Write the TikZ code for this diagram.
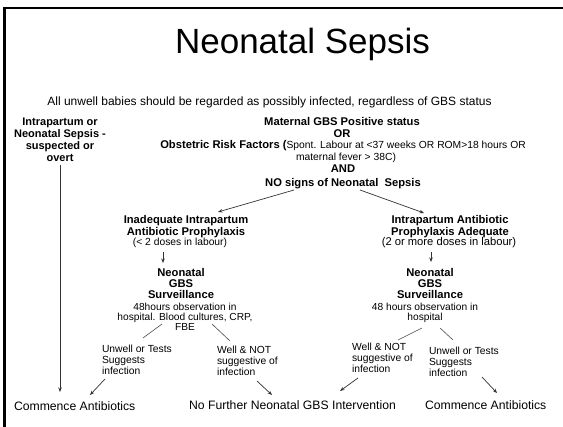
\documentclass[tikz,border=0pt]{standalone}
\usepackage{fontspec}
\setmainfont{Liberation Sans}
\usetikzlibrary{arrows.meta}
\tikzset{
  every node/.style={inner sep=0pt, outer sep=0pt},
  regtxt/.style={font=\fontsize{10.3}{11}\selectfont, align=center},
  obstxt/.style={font=\fontsize{10.2}{10.2}\selectfont, align=center},
  hdrtxt/.style={font=\bfseries\fontsize{11.2}{11.5}\selectfont, align=center},
  survtxt/.style={font=\bfseries\fontsize{11.2}{11.3}\selectfont, align=center},
  bigtxt/.style={font=\fontsize{12.2}{14}\selectfont},
  smalltxt/.style={font=\fontsize{10.3}{11}\selectfont},
  arr/.style={draw=black!80, line width=0.7pt, -{Stealth[length=4.5pt,width=3.5pt]}},
  plain/.style={draw=black!70, line width=0.6pt},
}
\begin{document}
\begin{tikzpicture}[x=1pt,y=-1pt]
\useasboundingbox (0,0) rectangle (563,427);
\fill[white] (0,0) rectangle (563,427);
% slide border
\draw[line width=2.5pt] (4.5,427) -- (4.5,8) -- (563,8);

\node[font=\fontsize{35}{40}\selectfont] (title) at (302.5,44) {Neonatal Sepsis};
\node[font=\fontsize{12}{14}\selectfont] (allunwell) at (269.5,102)
  {All unwell babies should be regarded as possibly infected, regardless of GBS status};

\node[font=\bfseries\fontsize{11}{12}\selectfont, align=center] (sepsis) at (60,140) {Intrapartum or\\Neonatal Sepsis -\\suspected or\\overt};

\node[font=\bfseries\fontsize{11.2}{12}\selectfont, align=center] (maternal) at (342,128) {Maternal GBS Positive status\\OR};
\node[font=\bfseries\fontsize{11.2}{12}\selectfont] (obstetric) at (343,146)
  {Obstetric Risk Factors (\mdseries\fontsize{10.3}{11}\selectfont Spont. Labour at <37 weeks OR ROM>18 hours OR};
\node[smalltxt] (fever) at (346,157.5) {maternal fever > 38C)};
\node[font=\bfseries\fontsize{11.2}{13.5}\selectfont, align=center] (nosigns) at (343,177) {AND\\NO signs of Neonatal\ \ Sepsis};

% left branch
\node[hdrtxt] (inadequate) at (186,226.5) {Inadequate Intrapartum\\Antibiotic Prophylaxis};
\node[smalltxt] (inaddoses) at (180,243) {(< 2 doses in labour)};
\node[survtxt] (survL) at (181,283.5) {Neonatal\\GBS\\Surveillance};
\node[obstxt] (obsL) at (185,317) {48hours observation in\\hospital. Blood cultures, CRP,\\FBE};
\node[regtxt, align=left, anchor=west] (unwellL) at (102,360) {Unwell or Tests\\Suggests\\infection};
\node[regtxt, align=left, anchor=west] (wellL) at (217,360.5) {Well \& NOT\\suggestive of\\infection};

% right branch
\node[hdrtxt] (adequate) at (450,226.5) {Intrapartum Antibiotic\\Prophylaxis Adequate};
\node[font=\fontsize{11.2}{12}\selectfont] (adeqdoses) at (449,243) {(2 or more doses in labour)};
\node[survtxt] (survR) at (430,283.5) {Neonatal\\GBS\\Surveillance};
\node[obstxt] (obsR) at (425,312.5) {48 hours observation in\\hospital};
\node[regtxt, align=left, anchor=west] (wellR) at (352,358) {Well \& NOT\\suggestive of\\infection};
\node[regtxt, align=left, anchor=west] (unwellR) at (429,361.5) {Unwell or Tests\\Suggests\\infection};

% outcomes
\node[bigtxt, anchor=west] (commL) at (14,406) {Commence Antibiotics};
\node[bigtxt] (nofurther) at (292.5,405) {No Further Neonatal GBS Intervention};
\node[bigtxt, anchor=west] (commR) at (425,405) {Commence Antibiotics};

% connector end points
\coordinate (sepsisout) at (60,165);
\coordinate (commLin) at (60,392);
\coordinate (nosignsL) at (294,190);
\coordinate (inadin) at (218,212);
\coordinate (nosignsR) at (360,190);
\coordinate (adeqin) at (424,213);
\coordinate (inadout) at (163,252);
\coordinate (survLin) at (163,263);
\coordinate (adeqout) at (431,252);
\coordinate (survRin) at (431,262);
\coordinate (obsLa) at (162,324);
\coordinate (unwellLin) at (143,338);
\coordinate (obsLb) at (212,324);
\coordinate (wellLin) at (230,341);
\coordinate (unwellLout) at (105,379);
\coordinate (commLin2) at (90,395);
\coordinate (wellLout) at (257,381);
\coordinate (nofurtherinL) at (272,395);
\coordinate (obsRa) at (422,328);
\coordinate (wellRin) at (398,340);
\coordinate (obsRb) at (440,328);
\coordinate (unwellRin) at (453,340);
\coordinate (wellRout) at (358,378);
\coordinate (nofurtherinR) at (340,391);
\coordinate (unwellRout) at (482,377);
\coordinate (commRin) at (497,393);

\draw[arr] (sepsisout) -- (commLin);
\draw[arr] (nosignsL) -- (inadin);
\draw[arr] (nosignsR) -- (adeqin);
\draw[arr] (inadout) -- (survLin);
\draw[arr] (adeqout) -- (survRin);
\draw[plain] (obsLa) -- (unwellLin);
\draw[plain] (obsLb) -- (wellLin);
\draw[arr] (unwellLout) -- (commLin2);
\draw[arr] (wellLout) -- (nofurtherinL);
\draw[plain] (obsRa) -- (wellRin);
\draw[plain] (obsRb) -- (unwellRin);
\draw[arr] (wellRout) -- (nofurtherinR);
\draw[arr] (unwellRout) -- (commRin);
\end{tikzpicture}
\end{document}
